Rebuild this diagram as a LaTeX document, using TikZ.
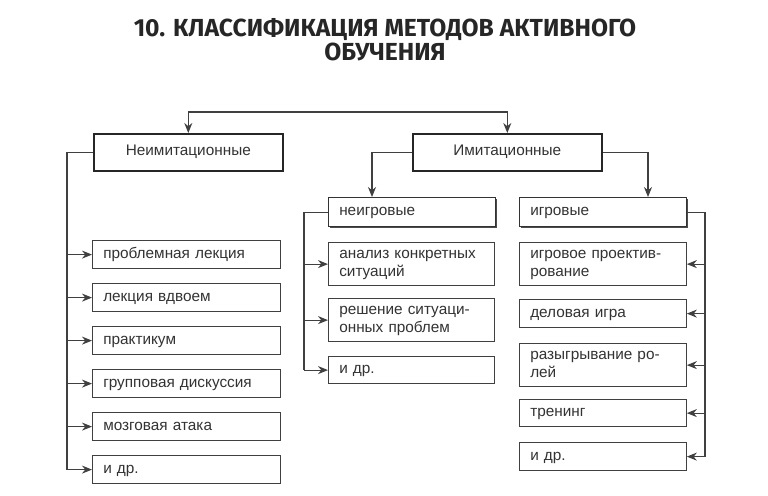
\documentclass[tikz,border=0pt]{standalone}
\usepackage{fontspec}
\setmainfont{Liberation Sans}
\newfontfamily\titlefont{Fira Sans}
\usetikzlibrary{arrows.meta, positioning, calc, shadows}

\begin{document}
\begin{tikzpicture}[
    x=0.75pt, y=-0.75pt,
    % Main class style
    headbox/.style={
        rectangle,
        draw=black!85,
        line width=1.2pt,
        fill=white,
        anchor=north west,
        minimum width=141.75pt,
        minimum height=28pt,
        font=\fontsize{11.5}{12.8}\selectfont,
        text=black!80,
        execute at begin node=\strut,
        drop shadow={shadow xshift=0.6pt, shadow yshift=-0.6pt, fill=black!75, opacity=1}
    },
    % Sub class style
    subbox/.style={
        rectangle,
        draw=black!80,
        line width=0.9pt,
        fill=white,
        anchor=north west,
        inner xsep=8pt,
        text width=109pt,
        minimum height=21.75pt,
        align=left,
        font=\fontsize{11.5}{12.8}\selectfont,
        text=black!80,
        execute at begin node=\strut,
        drop shadow={shadow xshift=1pt, shadow yshift=-1pt, fill=black!70, opacity=1}
    },
    % Method style
    itembox/.style={
        rectangle,
        draw=black!75,
        line width=0.9pt,
        fill=white,
        anchor=north west,
        inner xsep=8pt,
        minimum height=21pt,
        align=left,
        font=\fontsize{11.5}{12.8}\selectfont,
        text=black!80,
        execute at begin node=\strut,
        execute at end node=\strut
    },
    leftitem/.style={itembox, text width=125pt},
    miditem/.style={itembox, text width=108.5pt},
    rightitem/.style={itembox, text width=109pt},
    tallitem/.style={minimum height=31.5pt},
    arrow/.style={
        -{Stealth[length=7.5pt, width=6pt]},
        line width=0.8pt,
        black!75
    },
    bus/.style={
        line width=0.8pt,
        black!75
    }
]
\useasboundingbox (0,0) rectangle (768,496);

% === Title ===
\node[font=\titlefont\bfseries\fontsize{18.5}{18}\selectfont, text=black!85, align=center] (title) at (385,40)
    {10. КЛАССИФИКАЦИЯ МЕТОДОВ АКТИВНОГО\\ОБУЧЕНИЯ};

% === Main classes ===
\node[headbox] (neimit) at (93,133) {Неимитационные};
\node[headbox] (imit) at (412,133) {Имитационные};

\draw[arrow, {Stealth[length=7.5pt, width=6pt]}-{Stealth[length=7.5pt, width=6pt]}]
    (neimit.north) -- ++(0,-21) -| (imit.north);

% === Non-imitation methods ===
\node[leftitem] (problem) at (92,240) {проблемная лекция};
\node[leftitem] (duo) at (92,283) {лекция вдвоем};
\node[leftitem] (practice) at (92,326) {практикум};
\node[leftitem] (discuss) at (92,369) {групповая дискуссия};
\node[leftitem] (brain) at (92,412) {мозговая атака};
\node[leftitem] (leftetc) at (92,455) {и др.};

\coordinate (lbus) at (67,151);
\draw[bus] (neimit.west) -- (lbus |- neimit.west) -- (lbus |- leftetc.west);
\foreach \m in {problem, duo, practice, discuss, brain, leftetc}
    \draw[arrow] (lbus |- \m.west) -- (\m.west);

% === Imitation: sub classes ===
\node[subbox] (neigr) at (328,197) {неигровые};
\node[subbox] (igr) at (519,197) {игровые};

\draw[arrow] (imit.west) -| ($(neigr.north west)+(44,0)$);
\draw[arrow] (imit.east) -| ($(igr.north west)+(129,0)$);

% === Non-game methods ===
\node[miditem, tallitem] (cases) at (328,242) {анализ конкретных\\ситуаций};
\node[miditem, minimum height=32.25pt] (solving) at (328,298) {решение ситуаци-\\онных проблем};
\node[miditem, minimum height=20.25pt] (midetc) at (328,356) {и др.};

\coordinate (mbus) at (304,211.5);
\draw[bus] (neigr.west) -- (mbus |- neigr.west) -- (mbus |- midetc.west);
\foreach \m in {cases, solving, midetc}
    \draw[arrow] (mbus |- \m.west) -- (\m.west);

% === Game methods ===
\node[rightitem, tallitem] (design) at (519,242) {игровое проектив-\\рование};
\node[rightitem] (business) at (519,299) {деловая игра};
\node[rightitem, tallitem] (roles) at (519,343) {разыгрывание ро-\\лей};
\node[rightitem, minimum height=20.25pt] (training) at (519,399) {тренинг};
\node[rightitem] (rightetc) at (519,442) {и др.};

\coordinate (rbus) at (705,211.5);
\draw[bus] (igr.east) -- (rbus |- igr.east) -- (rbus |- rightetc.east);
\foreach \m in {design, business, roles, training, rightetc}
    \draw[arrow] (rbus |- \m.east) -- (\m.east);

\end{tikzpicture}
\end{document}
